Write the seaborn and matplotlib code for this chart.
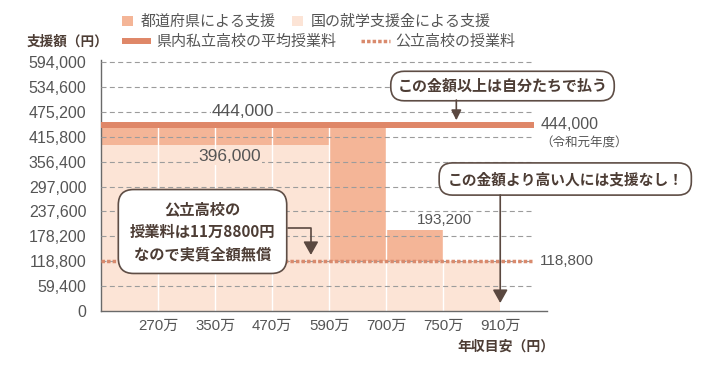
import numpy as np
import matplotlib
matplotlib.use("Agg")
import matplotlib.pyplot as plt
from matplotlib.patches import Patch
from matplotlib.lines import Line2D
import seaborn as sns

# ---------------- data ----------------
income_labels = ['270万', '350万', '470万', '590万', '700万', '750万', '910万']
national_support = [396000, 396000, 396000, 396000, 118800, 118800, 118800]
prefecture_support = [48000, 48000, 48000, 48000, 325200, 74400, 0]
private_avg_tuition = 444000
public_tuition = 118800
y_ticks = [0, 59400, 118800, 178200, 237600, 297000, 356400, 415800, 475200, 534600, 594000]

legend_labels = ['都道府県による支援', '国の就学支援金による支援',
                 '県内私立高校の平均授業料', '公立高校の授業料']

# ---------------- style ----------------
sns.set_style("white")
plt.rcParams['font.family'] = ['Liberation Sans', 'Noto Sans CJK JP']
CJK = ['Noto Sans CJK JP', 'DejaVu Sans']

C_LIGHT = '#FCE4D6'
C_PREF = '#F4B597'
C_LINE = '#DF8768'
C_DOT = '#D98A6D'
C_TEXT = '#555555'
C_BROWN = '#4d3d35'
C_BOX = '#5e4d45'
DOT_STYLE = (0, (1.0, 0.6))

fig = plt.figure(figsize=(7.04, 3.72), dpi=100)
ax = fig.add_axes([101/704, 1-311/372, 446/704, 251.5/372])

total = [n + p for n, p in zip(national_support, prefecture_support)]

sns.barplot(x=income_labels, y=total, order=income_labels, color=C_PREF,
            saturation=1, width=1, errorbar=None, linewidth=0, ax=ax, zorder=1)
sns.barplot(x=income_labels, y=national_support, order=income_labels, color=C_LIGHT,
            saturation=1, width=1, errorbar=None, linewidth=0, ax=ax, zorder=1.5)

n = len(income_labels)
# white separators between bars
ax.vlines(np.arange(n - 1) + 0.5, 0, max(total), colors='white', lw=1.0, zorder=2)

x_end = 7.06
# dashed grid
ax.hlines(y_ticks[1:], -0.5, x_end, colors='#9c9c9c', lw=0.8,
          linestyles=[(0, (4.5, 3))], zorder=3)
# private average tuition
ax.hlines(private_avg_tuition, -0.5, x_end + 0.03, colors=C_LINE, lw=4.3, zorder=4)
# public tuition dotted
ax.hlines(public_tuition, -0.5, x_end, colors=C_DOT, lw=2.5,
          linestyles=[DOT_STYLE], zorder=4)

ax.set_xlim(-0.5, 7.32)
ax.set_ylim(0, 600000)
ax.set_yticks(y_ticks, [f"{v:,}" for v in y_ticks])
ax.set_xticks(np.arange(n) + 0.5, income_labels)
ax.set_xlabel('')
ax.set_ylabel('')
ax.tick_params(axis='y', labelsize=11.5, colors=C_TEXT, length=0, pad=10.5)
ax.tick_params(axis='x', labelsize=10.8, colors=C_TEXT, length=0, pad=6)
for s in ['top', 'right']:
    ax.spines[s].set_visible(False)
for s in ['left', 'bottom']:
    ax.spines[s].set_color('#6a6a6a')
    ax.spines[s].set_linewidth(1.0)

# ---------------- value labels ----------------
ax.text(1.99, 475200, f"{total[0]:,}", ha='center', va='center', fontsize=12.5,
        color=C_TEXT, zorder=5, bbox=dict(fc='white', ec='none', pad=0.5))
ax.text(1.76, 367400, f"{national_support[0]:,}", ha='center', va='center', fontsize=12.5,
        color=C_TEXT, zorder=5, bbox=dict(fc=C_LIGHT, ec='none', pad=0.5))
ax.text(5.03, total[5] + 8000, f"{total[5]:,}", ha='left', va='bottom', fontsize=11,
        color=C_TEXT, zorder=5)
ax.text(7.2, private_avg_tuition, f"{private_avg_tuition:,}", ha='left', va='center',
        fontsize=11.5, color=C_TEXT)
ax.text(7.2, 400600, '（令和元年度）', ha='left', va='center', fontsize=9,
        color=C_TEXT, family=CJK)
ax.text(7.2, public_tuition, f"{public_tuition:,}", ha='left', va='center',
        fontsize=11, color=C_TEXT)

# ---------------- call-out boxes ----------------
box_kw = dict(fc='white', ec=C_BOX, lw=1.2)
ax.text(6.54, 536700, 'この金額以上は自分たちで払う', ha='center', va='center',
        fontsize=10.8, weight='bold', color=C_BROWN, family=CJK, zorder=6,
        bbox=dict(boxstyle='round,pad=0.45,rounding_size=0.9', **box_kw))
ax.text(7.64, 314900, 'この金額より高い人には支援なし！', ha='center', va='center',
        fontsize=10.6, weight='bold', color=C_BROWN, family=CJK, zorder=6,
        bbox=dict(boxstyle='round,pad=0.55,rounding_size=0.9', **box_kw))
ax.text(1.28, 189650, '公立高校の\n授業料は11万8800円\nなので実質全額無償',
        ha='center', va='center', multialignment='center', linespacing=1.5,
        fontsize=11, weight='bold', color=C_BROWN, family=CJK, zorder=6,
        bbox=dict(boxstyle='round,pad=0.75,rounding_size=1.0', **box_kw))

arrow_kw = dict(color='#5a4840', lw=1.2, shrinkA=0, shrinkB=0)
ax.annotate('', xy=(5.73, 455000), xytext=(5.73, 503300),
            arrowprops=dict(arrowstyle='-|>,head_length=0.6,head_width=0.3', **arrow_kw),
            zorder=6)
ax.annotate('', xy=(6.5, 19000), xytext=(6.5, 276700),
            arrowprops=dict(arrowstyle='-|>,head_length=0.8,head_width=0.45', **arrow_kw),
            zorder=6)
ax.annotate('', xy=(3.18, 133600), xytext=(2.78, 198000),
            arrowprops=dict(arrowstyle='-|>,head_length=0.8,head_width=0.45',
                            connectionstyle='angle,angleA=0,angleB=90,rad=0', **arrow_kw),
            zorder=5)

# ---------------- axis titles ----------------
fig.text(27/704, 1-42/372, '支援額（円）', ha='left', va='center', fontsize=9.8,
         weight='bold', color=C_BROWN, family=CJK)
fig.text(506/704, 1-347/372, '年収目安（円）', ha='center', va='center', fontsize=10,
         weight='bold', color=C_BROWN, family=CJK)

# ---------------- legends ----------------
h1 = [Patch(facecolor=C_PREF, edgecolor='none'), Patch(facecolor=C_LIGHT, edgecolor='none')]
fig.legend(h1, legend_labels[:2], loc='center left', bbox_to_anchor=(122/704, 1-22/372),
           ncol=2, frameon=False, prop={'family': CJK, 'size': 10.8},
           handlelength=0.75, handleheight=0.7, handletextpad=0.53, columnspacing=1.05,
           borderpad=0, borderaxespad=0, labelcolor=C_TEXT)
h2 = [Line2D([], [], color=C_LINE, lw=4.3, solid_capstyle='butt'),
      Line2D([], [], color=C_DOT, lw=2.5, linestyle=DOT_STYLE, dash_capstyle='butt')]
fig.legend(h2, legend_labels[2:], loc='center left', bbox_to_anchor=(122/704, 1-42/372),
           ncol=2, frameon=False, prop={'family': CJK, 'size': 10.8},
           handlelength=1.95, handletextpad=0.35, columnspacing=1.6,
           borderpad=0, borderaxespad=0, labelcolor=C_TEXT)

fig.savefig('out.png', dpi=100)
